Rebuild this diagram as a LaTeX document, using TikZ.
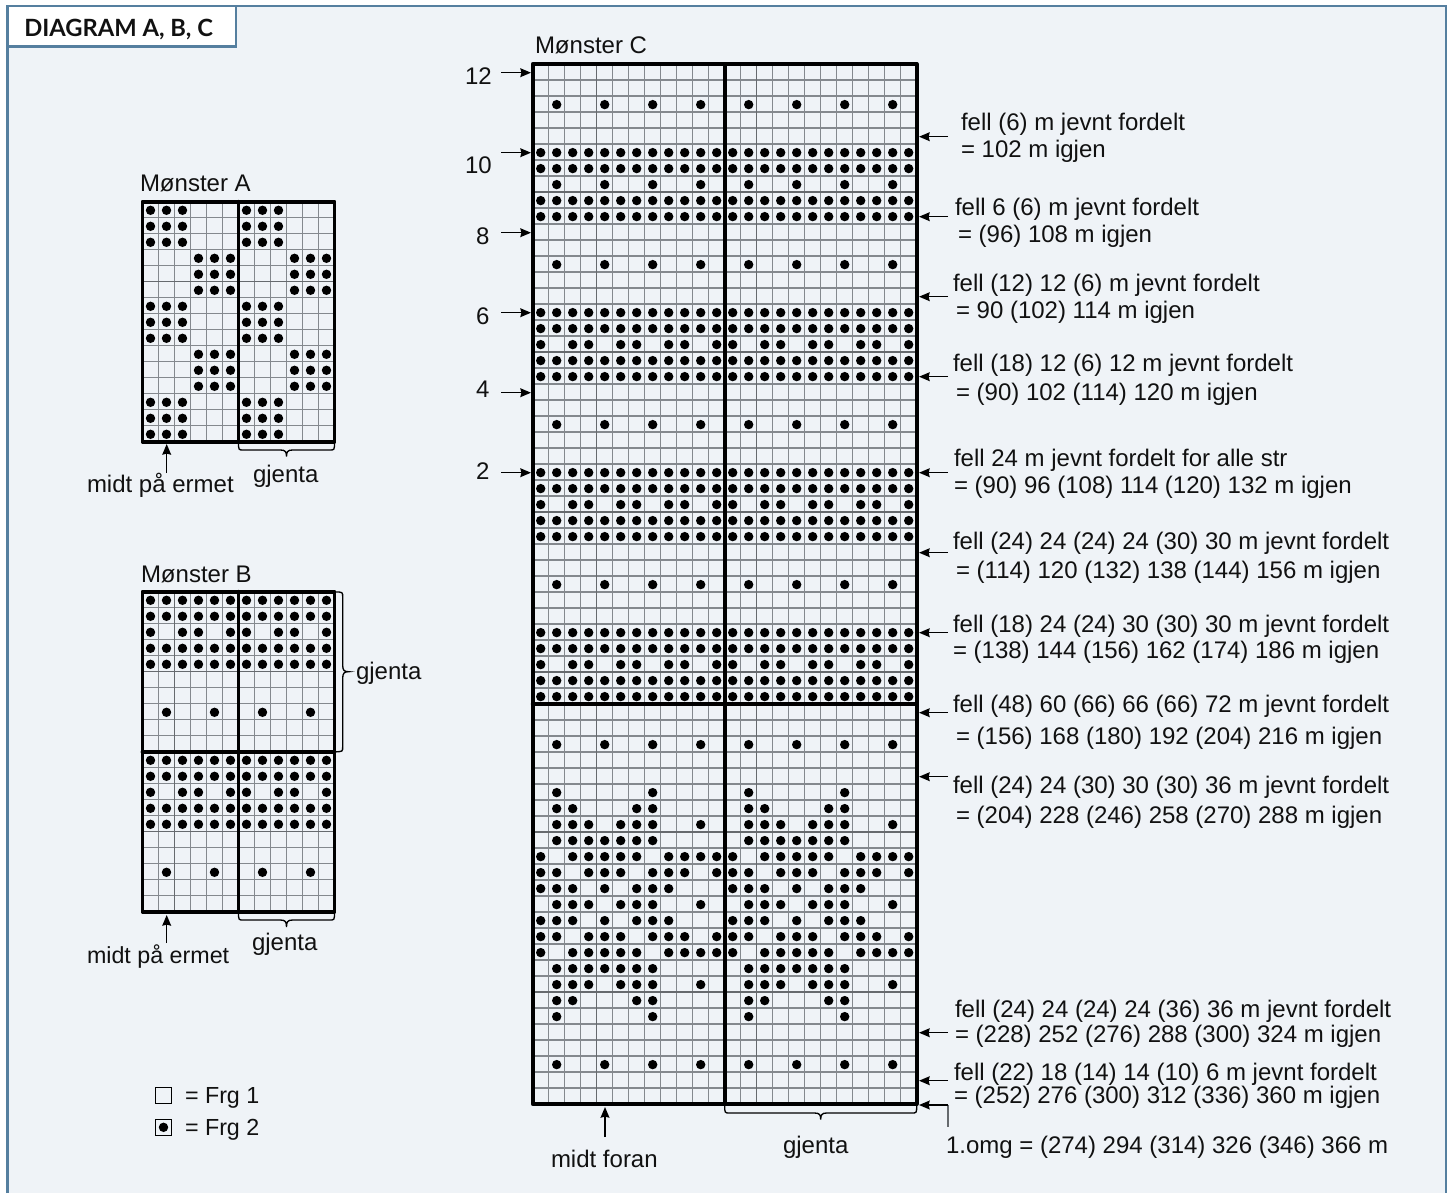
\documentclass[tikz,border=0pt]{standalone}
\usepackage{fontspec}
\setmainfont{Liberation Sans}
\newfontfamily\titlefont{Lato}
\usetikzlibrary{arrows.meta}
\definecolor{panelbg}{HTML}{EFF3F7}
\definecolor{panelline}{HTML}{557F9F}
\definecolor{gridgrey}{HTML}{84898E}
\definecolor{griddark}{HTML}{666A6E}
\definecolor{inkblack}{HTML}{111111}
\tikzset{
  x=0.75pt,y=-0.75pt,
  lab/.style={anchor=base west,inner sep=0pt,outer sep=0pt,text=inkblack,font=\fontsize{18}{20}\selectfont},
  labsmall/.style={lab,font=\fontsize{17.45}{20}\selectfont},
  gridfine/.style={draw=gridgrey,line width=0.85pt},
  griddeep/.style={draw=griddark,line width=0.95pt},
  chartedge/.style={draw=black,line width=2.9pt,line join=round,line cap=round},
  stitch/.style={fill=black},
  pointer/.style={draw=black,line width=1.05pt,-{Stealth[length=8pt,width=6.6pt,inset=0.8pt]}},
  leader/.style={draw=griddark,line width=1.3pt},
  bracket/.style={draw=black,line width=1pt},
  legbox/.style={draw=black,line width=0.9pt,minimum size=12pt,inner sep=0pt,outer sep=0pt},
}
% grid: x0 y0 cols rows
\newcommand\knitgrid[4]{%
  \foreach \i in {1,...,\numexpr#3-1\relax}{\draw[gridfine] ({#1+16*\i},#2) -- ({#1+16*\i},{#2+16*#4});}
  \foreach \j in {1,...,\numexpr#4-1\relax}{\draw[gridfine] (#1,{#2+16*\j}) -- ({#1+16*#3},{#2+16*\j});}
}
\newcommand\deeprow[4]{\draw[griddeep] (#1,{#2+16*#4}) -- ({#1+16*#3},{#2+16*#4});}
\newcommand\deepcol[4]{\draw[griddeep] ({#1+16*#4},#2) -- ({#1+16*#4},{#2+16*#3});}
% dots: x0 y0 row list period
\newcommand\stitchrow[5]{\foreach \c in {#4}{\foreach \k in {0,#5}{\fill[stitch] ({#1+16*(\c+\k+.5)},{#2+16*(#3+.5)+.6}) circle[radius=4.7];}}}
% bottom brace: x1 x2 y0 yh ypeak
\newcommand\bottombrace[5]{\draw[bracket] (#1,#3) .. controls (#1,#4) and (#1,#4) .. ({#1+5},#4) -- ({(#1+#2)/2-6},#4) .. controls ({(#1+#2)/2-1},#4) and ({(#1+#2)/2},{#4+2}) .. ({(#1+#2)/2},#5) .. controls ({(#1+#2)/2},{#4+2}) and ({(#1+#2)/2+1},#4) .. ({(#1+#2)/2+6},#4) -- ({#2-5},#4) .. controls (#2,#4) and (#2,#4) .. (#2,#3);}
\begin{document}
\begin{tikzpicture}
\useasboundingbox (0,0) rectangle (1449,1193);
% panel
\fill[panelbg] (7.5,6) rectangle (1446,1193);
\draw[panelline,line width=1.8pt] (7.5,1193) -- (7.5,6) -- (1446,6) -- (1446,1193);
\node[draw=panelline,line width=1.8pt,fill=white,anchor=north west,minimum width=171.3pt,minimum height=30.5pt,inner sep=0pt,outer sep=0pt] (tag) at (7.5,6) {};
\node[anchor=base west,inner sep=0pt,font=\titlefont\bfseries\fontsize{17.8}{20}\selectfont,text=inkblack] (tagtext) at (24,36) {DIAGRAM A, B, C};

% ---------- Chart A
\def\ax{142.5}\def\ay{201.7}
\knitgrid{\ax}{\ay}{12}{15}
\deeprow{\ax}{\ay}{12}{5}
\foreach \r in {0,1,2,6,7,8,12,13,14}{\stitchrow{\ax}{\ay}{\r}{0,1,2}{6}}
\foreach \r in {3,4,5,9,10,11}{\stitchrow{\ax}{\ay}{\r}{3,4,5}{6}}
\draw[chartedge] (\ax,\ay) rectangle ({\ax+192},{\ay+240});
\draw[chartedge] ({\ax+96},\ay) -- ({\ax+96},{\ay+240});
\bottombrace{238.5}{334.5}{442}{450}{456.5}

% ---------- Chart B
\def\bx{142.5}\def\by{591.7}
\knitgrid{\bx}{\by}{12}{20}
\deeprow{\bx}{\by}{12}{5}
\deeprow{\bx}{\by}{12}{15}
\deepcol{\bx}{\by}{20}{2}
\foreach \r in {0,1,3,4,10,11,13,14}{\stitchrow{\bx}{\by}{\r}{0,1,2,3,4,5}{6}}
\foreach \r in {2,12}{\stitchrow{\bx}{\by}{\r}{0,2,3,5}{6}}
\foreach \r in {7,17}{\stitchrow{\bx}{\by}{\r}{1,4}{6}}
\draw[chartedge] (\bx,\by) rectangle ({\bx+192},{\by+320});
\draw[chartedge] ({\bx+96},\by) -- ({\bx+96},{\by+320});
\draw[chartedge] (\bx,{\by+160}) -- ({\bx+192},{\by+160});
\bottombrace{238.5}{334.5}{912}{920}{927}
\draw[bracket] (335,592) .. controls (342.7,592) and (342.7,592) .. (342.7,597) -- (342.7,665.5) .. controls (342.7,670.5) and (344.5,671.7) .. (348.5,671.7) .. controls (344.5,671.7) and (342.7,673) .. (342.7,678) -- (342.7,746.5) .. controls (342.7,751.7) and (342.7,751.7) .. (335,751.7);

% ---------- Chart C
\def\cx{532.7}\def\cy{64}
\knitgrid{\cx}{\cy}{24}{65}
\foreach \r in {8,18,28,38,48,58}{\deeprow{\cx}{\cy}{24}{\r}}
\deepcol{\cx}{\cy}{65}{4}
\deepcol{\cx}{\cy}{65}{14}
\foreach \r in {5,6,8,9,15,16,18,19,25,26,28,29,35,36,38,39}{\stitchrow{\cx}{\cy}{\r}{0,1,2,3,4,5,6,7,8,9,10,11}{12}}
\foreach \r in {2,7,12,22,32,42,62}{\stitchrow{\cx}{\cy}{\r}{1,4,7,10}{12}}
\foreach \r in {17,27,37}{\stitchrow{\cx}{\cy}{\r}{0,2,3,5,6,8,9,11}{12}}
\foreach \r in {45,59}{\stitchrow{\cx}{\cy}{\r}{1,7}{12}}
\foreach \r in {46,58}{\stitchrow{\cx}{\cy}{\r}{1,2,6,7}{12}}
\foreach \r in {47,52,57}{\stitchrow{\cx}{\cy}{\r}{1,2,3,5,6,7,10}{12}}
\foreach \r in {48,56}{\stitchrow{\cx}{\cy}{\r}{1,2,3,4,5,6,7}{12}}
\foreach \r in {49,55}{\stitchrow{\cx}{\cy}{\r}{0,2,3,4,5,6,8,9,10,11}{12}}
\foreach \r in {50,54}{\stitchrow{\cx}{\cy}{\r}{0,1,3,4,5,7,8,9,11}{12}}
\foreach \r in {51,53}{\stitchrow{\cx}{\cy}{\r}{0,1,2,4,6,7,8}{12}}
\draw[chartedge] (\cx,\cy) rectangle ({\cx+384},{\cy+1040});
\draw[chartedge] ({\cx+192},\cy) -- ({\cx+192},{\cy+1040});
\draw[chartedge] (\cx,{\cy+640}) -- ({\cx+384},{\cy+640});
\bottombrace{724.7}{916.7}{1105}{1113}{1119.5}

% ---------- Left row pointers, chart C
\foreach \n/\y in {a/72.7,b/152.7,c/232.7,d/312.7,e/392.7,f/472.7}{
  \coordinate (lt\n) at (501,\y);
  \coordinate (lh\n) at (531,\y);
  \draw[pointer] (lt\n) -- (lh\n);
}
% ---------- Right row pointers, chart C
\foreach \n/\y in {a/136.7,b/216.7,c/296.7,d/376.7,e/472.7,f/552.7,g/632.7,h/712.7,i/776.7,j/1032.7,k/1080.7}{
  \coordinate (rt\n) at (948,\y);
  \coordinate (rh\n) at (919,\y);
  \draw[pointer] (rt\n) -- (rh\n);
}
\coordinate (cornerlow) at (948,1126.7);
\coordinate (cornertop) at (948,1105);
\coordinate (cornertip) at (919,1105);
\draw[leader] (cornerlow) -- (cornertop);
\draw[pointer] (cornertop) -- (cornertip);

% ---------- Up pointers
\coordinate (atail) at (166.7,473); \coordinate (ahead) at (166.7,444);
\coordinate (btail) at (166.7,943); \coordinate (bhead) at (166.7,915);
\coordinate (ctail) at (605,1137);  \coordinate (chead) at (605,1107);
\draw[pointer] (atail) -- (ahead);
\draw[pointer] (btail) -- (bhead);
\draw[pointer] (ctail) -- (chead);

% ---------- Labels, left part
\node[lab] (ta) at (140,191) {Mønster A};
\node[lab] (tb) at (141,582) {Mønster B};
\node[lab] (tc) at (535,53) {Mønster C};
\node[lab] (ma) at (87,492) {midt på ermet};
\node[lab] (ga) at (253,482) {gjenta};
\node[labsmall] (mb) at (87,963) {midt på ermet};
\node[lab] (gb) at (252,950) {gjenta};
\node[lab] (gr) at (356,679) {gjenta};
\node[lab] (mc) at (551,1167) {midt foran};
\node[lab] (gc) at (783,1153) {gjenta};
\node[lab] (n12) at (465,84) {12};
\node[lab] (n10) at (465,173) {10};
\node[lab] (n8) at (476,244) {8};
\node[lab] (n6) at (476,324) {6};
\node[lab] (n4) at (476,397) {4};
\node[lab] (n2) at (476,479) {2};

% ---------- Legend
\node[legbox] (lega) at (163.5,1095.3) {};
\node[legbox] (legb) at (163.5,1127.3) {};
\fill[stitch] (legb.center) circle[radius=4.7];
\node[labsmall] (legat) at (185,1103) {= Frg 1};
\node[labsmall] (legbt) at (185,1135) {= Frg 2};

% ---------- Labels, right part
\node[lab] (r1a) at (961,130) {fell (6) m jevnt fordelt};
\node[lab] (r1b) at (961,157) {= 102 m igjen};
\node[lab] (r2a) at (955,215) {fell 6 (6) m jevnt fordelt};
\node[lab] (r2b) at (958,242) {= (96) 108 m igjen};
\node[lab] (r3a) at (953,291) {fell (12) 12 (6) m jevnt fordelt};
\node[lab] (r3b) at (956,318) {= 90 (102) 114 m igjen};
\node[lab] (r4a) at (953,371) {fell (18) 12 (6) 12 m jevnt fordelt};
\node[lab] (r4b) at (956,400) {= (90) 102 (114) 120 m igjen};
\node[lab] (r5a) at (954,466) {fell 24 m jevnt fordelt for alle str};
\node[lab] (r5b) at (954,493) {= (90) 96 (108) 114 (120) 132 m igjen};
\node[lab] (r6a) at (953,549) {fell (24) 24 (24) 24 (30) 30 m jevnt fordelt};
\node[lab] (r6b) at (956,578) {= (114) 120 (132) 138 (144) 156 m igjen};
\node[lab] (r7a) at (953,632) {fell (18) 24 (24) 30 (30) 30 m jevnt fordelt};
\node[lab] (r7b) at (953,658) {= (138) 144 (156) 162 (174) 186 m igjen};
\node[lab] (r8a) at (953,712) {fell (48) 60 (66) 66 (66) 72 m jevnt fordelt};
\node[lab] (r8b) at (956,744) {= (156) 168 (180) 192 (204) 216 m igjen};
\node[lab] (r9a) at (953,793) {fell (24) 24 (30) 30 (30) 36 m jevnt fordelt};
\node[lab] (r9b) at (956,823) {= (204) 228 (246) 258 (270) 288 m igjen};
\node[lab] (r10a) at (955,1017) {fell (24) 24 (24) 24 (36) 36 m jevnt fordelt};
\node[lab] (r10b) at (955,1042) {= (228) 252 (276) 288 (300) 324 m igjen};
\node[lab] (r11a) at (954,1080) {fell (22) 18 (14) 14 (10) 6 m jevnt fordelt};
\node[lab] (r11b) at (954,1103) {= (252) 276 (300) 312 (336) 360 m igjen};
\node[lab] (r12) at (946,1153) {1.omg = (274) 294 (314) 326 (346) 366 m};
\end{tikzpicture}
\end{document}
